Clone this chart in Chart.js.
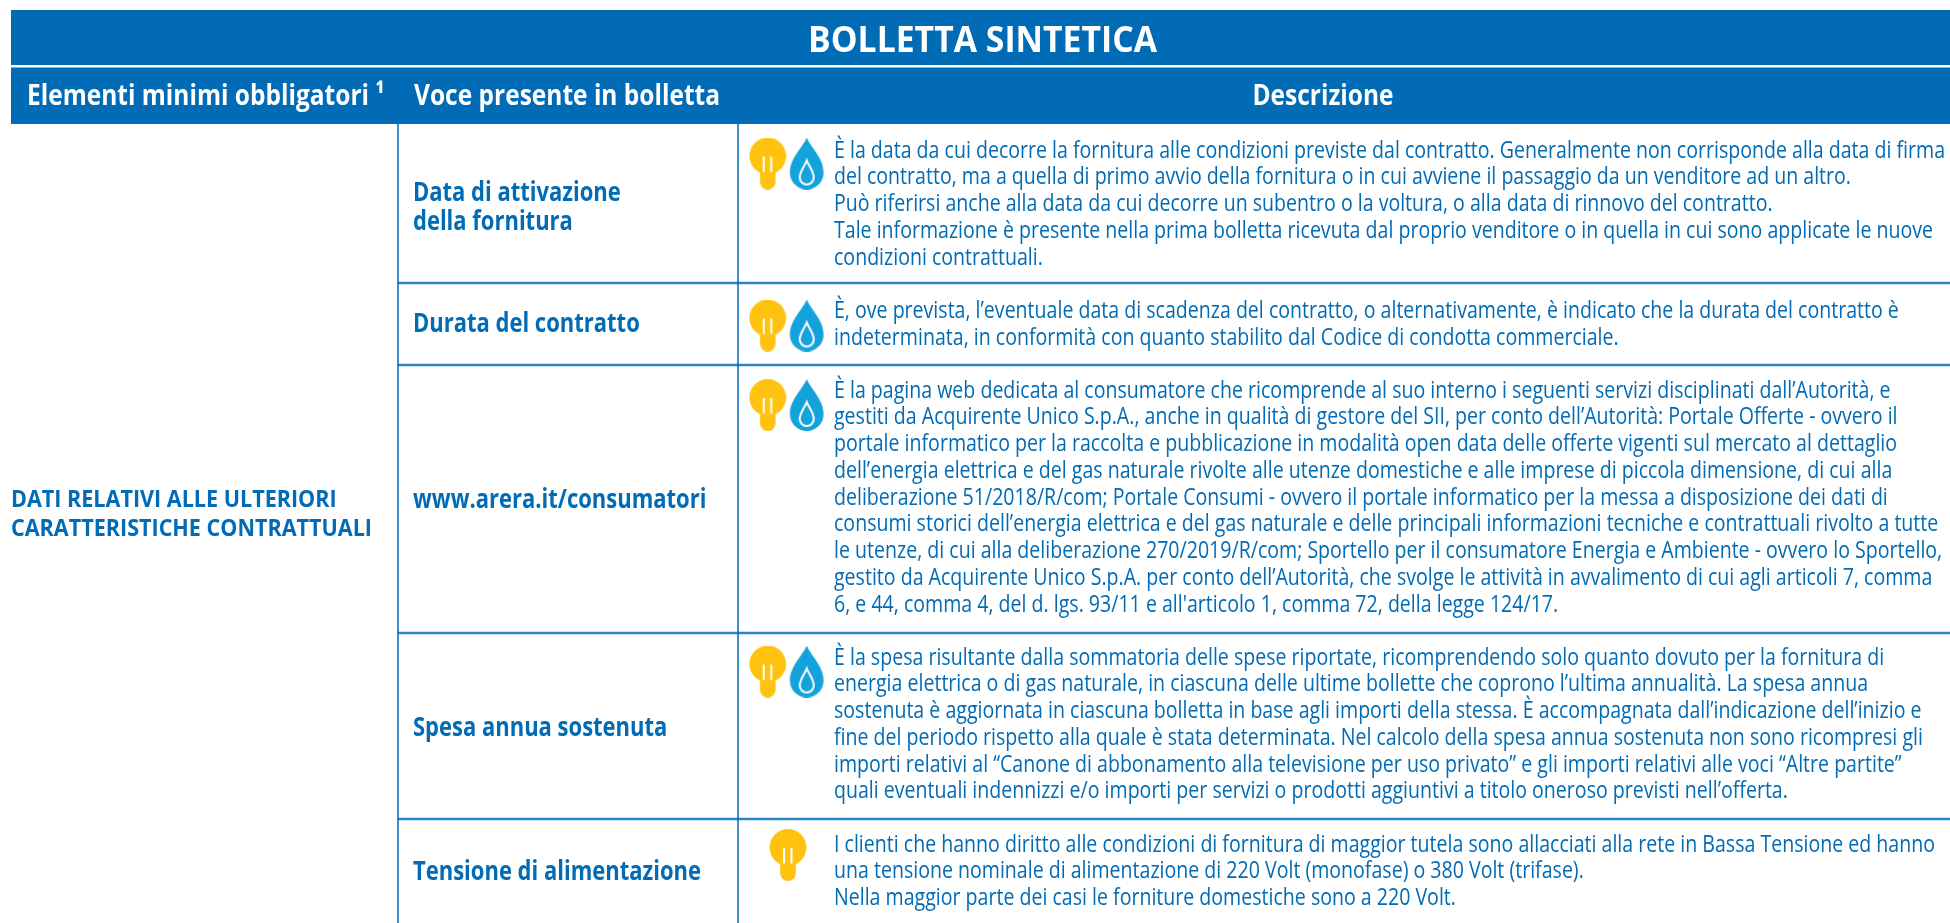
<!DOCTYPE html>
<html lang="it">
<head>
<meta charset="utf-8">
<title>Bolletta sintetica</title>
<script src="https://cdn.jsdelivr.net/npm/chart.js@4"></script>
<style>
    html, body { margin: 0; padding: 0; background: #fff; overflow: hidden; }
    canvas { display: block; }
</style>
</head>
<body>
<canvas id="chart" width="1950" height="923"></canvas>
<script>
// table content
const titleText = 'BOLLETTA SINTETICA';
const headerLabels = ['Elementi minimi obbligatori ¹', 'Voce presente in bolletta', 'Descrizione'];
const sectionLabel = ['DATI RELATIVI ALLE ULTERIORI', 'CARATTERISTICHE CONTRATTUALI'];
const rowLabels = [
    ['Data di attivazione', 'della fornitura'],
    ['Durata del contratto'],
    ['www.arera.it/consumatori'],
    ['Spesa annua sostenuta'],
    ['Tensione di alimentazione'],
];
const rowServices = [
    ['luce', 'gas'],
    ['luce', 'gas'],
    ['luce', 'gas'],
    ['luce', 'gas'],
    ['luce'],
];
const rowDescriptions = [
    [
        'È la data da cui decorre la fornitura alle condizioni previste dal contratto. Generalmente non corrisponde alla data di firma',
        'del contratto, ma a quella di primo avvio della fornitura o in cui avviene il passaggio da un venditore ad un altro.',
        'Può riferirsi anche alla data da cui decorre un subentro o la voltura, o alla data di rinnovo del contratto.',
        'Tale informazione è presente nella prima bolletta ricevuta dal proprio venditore o in quella in cui sono applicate le nuove',
        'condizioni contrattuali.',
    ],
    [
        'È, ove prevista, l’eventuale data di scadenza del contratto, o alternativamente, è indicato che la durata del contratto è',
        'indeterminata, in conformità con quanto stabilito dal Codice di condotta commerciale.',
    ],
    [
        'È la pagina web dedicata al consumatore che ricomprende al suo interno i seguenti servizi disciplinati dall’Autorità, e',
        'gestiti da Acquirente Unico S.p.A., anche in qualità di gestore del SII, per conto dell’Autorità: Portale Offerte - ovvero il',
        'portale informatico per la raccolta e pubblicazione in modalità open data delle offerte vigenti sul mercato al dettaglio',
        'dell’energia elettrica e del gas naturale rivolte alle utenze domestiche e alle imprese di piccola dimensione, di cui alla',
        'deliberazione 51/2018/R/com; Portale Consumi - ovvero il portale informatico per la messa a disposizione dei dati di',
        'consumi storici dell’energia elettrica e del gas naturale e delle principali informazioni tecniche e contrattuali rivolto a tutte',
        'le utenze, di cui alla deliberazione 270/2019/R/com; Sportello per il consumatore Energia e Ambiente - ovvero lo Sportello,',
        'gestito da Acquirente Unico S.p.A. per conto dell’Autorità, che svolge le attività in avvalimento di cui agli articoli 7, comma',
        '6, e 44, comma 4, del d. lgs. 93/11 e all\'articolo 1, comma 72, della legge 124/17.',
    ],
    [
        'È la spesa risultante dalla sommatoria delle spese riportate, ricomprendendo solo quanto dovuto per la fornitura di',
        'energia elettrica o di gas naturale, in ciascuna delle ultime bollette che coprono l’ultima annualità. La spesa annua',
        'sostenuta è aggiornata in ciascuna bolletta in base agli importi della stessa. È accompagnata dall’indicazione dell’inizio e',
        'fine del periodo rispetto alla quale è stata determinata. Nel calcolo della spesa annua sostenuta non sono ricompresi gli',
        'importi relativi al “Canone di abbonamento alla televisione per uso privato” e gli importi relativi alle voci “Altre partite”',
        'quali eventuali indennizzi e/o importi per servizi o prodotti aggiuntivi a titolo oneroso previsti nell’offerta.',
    ],
    [
        'I clienti che hanno diritto alle condizioni di fornitura di maggior tutela sono allacciati alla rete in Bassa Tensione ed hanno',
        'una tensione nominale di alimentazione di 220 Volt (monofase) o 380 Volt (trifase).',
        'Nella maggior parte dei casi le forniture domestiche sono a 220 Volt.',
    ],
];

// layout, in page pixels because the scales run 0-1950 and 0-923
const BLUE = '#016bb6';
const LINE_BLUE = '#2f86c6';
const FONT = '"Open Sans"';
const TABLE_LEFT = 11;
const COLUMN_X = [398, 738];
const ROW_TOPS = [124, 283, 365, 633, 819, 923];
const FIRST_BASELINES = [157.7, 318, 397.7, 664.5, 851.7];
const LABEL_BASELINES = [200.5, 332, 508, 735.5, 880];
const ICON_CENTERS = [163.5, 325.5, 405, 671.5, 855];
const LINE_HEIGHT = 26.75;

// each style is squeezed to a sample width, the installed fonts are wider than the original
const STYLES = {
    title: { font: `bold 36px ${FONT}`, sample: titleText, width: 349 },
    header: { font: `bold 29px ${FONT}`, sample: headerLabels[1], width: 306 },
    section: { font: `bold 24px ${FONT}`, sample: sectionLabel[1], width: 361 },
    label: { font: `bold 26px ${FONT}`, sample: rowLabels[4][0], width: 288 },
    body: { font: `500 24px ${FONT}`, sample: rowDescriptions[0][0], width: 1111 },
};

function makeIcon(width, height, draw) {
    const icon = document.createElement('canvas');
    icon.width = width;
    icon.height = height;
    draw(icon.getContext('2d'));
    return icon;
}

const bulbIcon = makeIcon(38, 52, ctx => {
    ctx.fillStyle = '#ffc20e';
    ctx.beginPath();
    ctx.arc(19, 18.5, 18.4, 0, Math.PI * 2);
    ctx.fill();
    ctx.beginPath();
    ctx.roundRect(11.2, 24, 15.6, 28, 7.8);
    ctx.fill();
    ctx.fillStyle = '#fff';
    ctx.fillRect(14, 19, 2, 15.5);
    ctx.fillRect(21.5, 19, 2, 15.5);
});

function dropPath(ctx, cx, top, bottom, r) {
    const cy = bottom - r;
    ctx.beginPath();
    ctx.moveTo(cx, top);
    ctx.bezierCurveTo(cx + r * 0.25, top + (cy - top) * 0.3, cx + r, cy - r * 0.9, cx + r, cy);
    ctx.arc(cx, cy, r, 0, Math.PI);
    ctx.bezierCurveTo(cx - r, cy - r * 0.9, cx - r * 0.25, top + (cy - top) * 0.3, cx, top);
    ctx.closePath();
}

const dropIcon = makeIcon(36, 52, ctx => {
    ctx.fillStyle = '#13a2dc';
    dropPath(ctx, 18, 0, 52, 16.8);
    ctx.fill();
    ctx.strokeStyle = '#fff';
    ctx.lineWidth = 2;
    dropPath(ctx, 18, 23, 47, 7);
    ctx.stroke();
});

function bandDataset(left, right, top, bottom) {
    return {
        data: [{ x: left, y: top }, { x: right, y: top }],
        showLine: true,
        borderWidth: 0,
        pointRadius: 0,
        fill: { value: bottom },
        backgroundColor: BLUE,
    };
}

function ruleDataset(x0, y0, x1, y1, color, width) {
    return {
        data: [{ x: x0, y: y0 }, { x: x1, y: y1 }],
        showLine: true,
        borderColor: color,
        borderWidth: width,
        pointRadius: 0,
    };
}

function iconDataset(points, icon) {
    return {
        data: points,
        pointStyle: icon,
        pointRadius: 20,
        showLine: false,
        clip: false,
    };
}

const datasets = [
    bandDataset(TABLE_LEFT, 1950, 10, 65),
    bandDataset(TABLE_LEFT, 1950, 67.5, 124),
];
COLUMN_X.forEach(x => {
    datasets.push(ruleDataset(x, 124, x, 923, BLUE, 1.5));
    datasets.push(ruleDataset(x, 67.5, x, 124, '#ffffff', 2.5));
});
ROW_TOPS.slice(1, 5).forEach(y => {
    datasets.push(ruleDataset(COLUMN_X[0], y, 1950, y, LINE_BLUE, 2.5));
});

const bulbPoints = [];
const dropPoints = [];
rowServices.forEach((services, i) => {
    if (services.length === 1) {
        bulbPoints.push({ x: 788, y: ICON_CENTERS[i] });
    } else {
        bulbPoints.push({ x: 767.7, y: ICON_CENTERS[i] });
        dropPoints.push({ x: 806.7, y: ICON_CENTERS[i] });
    }
});
datasets.push(iconDataset(bulbPoints, bulbIcon));
datasets.push(iconDataset(dropPoints, dropIcon));

const tableText = {
    id: 'tableText',
    afterDatasetsDraw(chart) {
        const { ctx, scales } = chart;

        function put(text, x, y, styleName, color, align) {
            const style = STYLES[styleName];
            ctx.save();
            ctx.font = style.font;
            ctx.fillStyle = color;
            const ratio = style.width / ctx.measureText(style.sample).width;
            ctx.textBaseline = 'alphabetic';
            ctx.textAlign = align || 'left';
            ctx.translate(scales.x.getPixelForValue(x), scales.y.getPixelForValue(y));
            ctx.scale(ratio, 1);
            ctx.fillText(text, 0, 0);
            ctx.restore();
        }

        put(titleText, 982.5, 52, 'title', '#fff', 'center');
        put(headerLabels[0], 27, 105, 'header', '#fff');
        put(headerLabels[1], 414, 105, 'header', '#fff');
        put(headerLabels[2], 1323, 105, 'header', '#fff', 'center');

        sectionLabel.forEach((line, i) => put(line, 11, 507 + i * 29, 'section', BLUE));

        rowLabels.forEach((lines, r) => {
            lines.forEach((line, i) => put(line, 413, LABEL_BASELINES[r] + i * 29, 'label', BLUE));
        });
        rowDescriptions.forEach((lines, r) => {
            lines.forEach((line, i) => put(line, 834, FIRST_BASELINES[r] + i * LINE_HEIGHT, 'body', BLUE));
        });
    },
};

new Chart(document.getElementById('chart'), {
    type: 'scatter',
    data: { datasets },
    plugins: [tableText],
    options: {
        responsive: false,
        animation: false,
        events: [],
        layout: { padding: 0, autoPadding: false },
        plugins: { legend: { display: false }, tooltip: { enabled: false } },
        scales: {
            x: { type: 'linear', min: 0, max: 1950, display: false },
            y: { type: 'linear', min: 0, max: 923, reverse: true, display: false },
        },
    },
});
</script>
</body>
</html>
